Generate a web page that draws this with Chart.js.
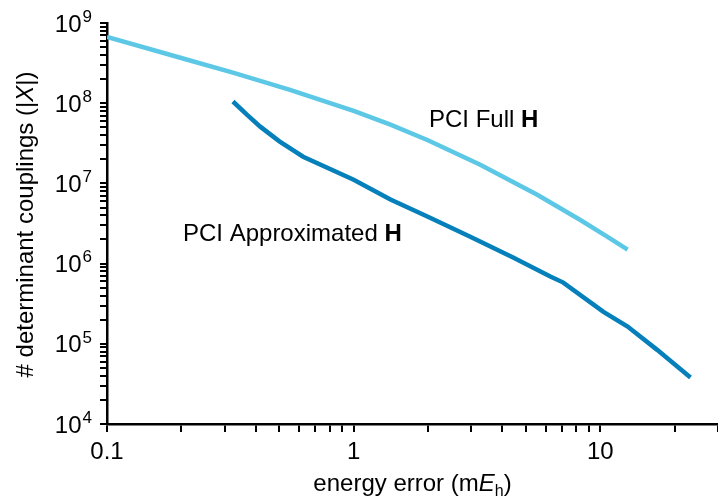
<!DOCTYPE html>
<html><head><meta charset="utf-8">
<script src="https://cdn.jsdelivr.net/npm/chart.js@4.4.1/dist/chart.umd.min.js"></script>
<style>html,body{margin:0;padding:0;background:#fff;overflow:hidden}#wrap{width:718px;height:498px}</style>
</head><body><div id="wrap"><canvas id="c" width="718" height="498"></canvas></div>
<script>
// ---- data ----
const fullX   = [0.1, 0.2, 0.324, 0.552, 1.0, 1.41, 2.0, 3.26, 5.55, 8.3, 10.5, 12.9];
const fullY   = [6.7e8, 3.66e8, 2.4e8, 1.47e8, 8.0e7, 5.4e7, 3.45e7, 1.71e7, 7.2e6, 3.5e6, 2.23e6, 1.49e6];
const approxX = [0.324, 0.369, 0.418, 0.5, 0.624, 1.0, 1.41, 2.0, 2.97, 4.43, 6.27, 7.08, 10.3, 12.9, 17.0, 23.2];
const approxY = [1.05e8, 7.2e7, 5.1e7, 3.35e7, 2.15e7, 1.11e7, 6.3e6, 3.84e6, 2.16e6, 1.19e6, 6.9e5, 5.8e5, 2.5e5, 1.64e5, 8.4e4, 3.8e4];

const seriesNames = ['PCI Full ', 'PCI Approximated '];
const xMajor = [0.1, 1, 10];
const xMajorLabels = ['0.1', '1', '10'];
const minorSteps = [1, 2, 3, 4, 5, 6, 7, 8, 9];
const xDecadeBases = [0.1, 1, 10];
const xMax = 30;
const yDecades = [4, 5, 6, 7, 8, 9];
const yMajorLabels = ['10', '10', '10', '10', '10', '10'];
const yExponents = ['4', '5', '6', '7', '8', '9'];
const xTitleRuns = [['energy error (m', 'n'], ['E', 'i'], ['h', 's'], [')', 'n']];
const yTitleRuns = [['# determinant couplings (|', 'n'], ['X', 'i'], ['|)', 'n']];

// ---- tick lists built from the arrays above ----
const xTickValues = [];
xDecadeBases.forEach(b => minorSteps.forEach(s => { const v = +(b * s).toPrecision(3); if (v <= xMax) xTickValues.push(v); }));
const yTickValues = [];
yDecades.forEach((d, i) => { const b = Math.pow(10, d); if (i === yDecades.length - 1) { yTickValues.push(b); } else { minorSteps.forEach(s => yTickValues.push(b * s)); } });

const FF = '"Liberation Sans", Arial, Helvetica, sans-serif';
const FS = 24;
function fontFor(style, size) {
  if (style === 'i') return 'italic ' + size + 'px ' + FF;
  if (style === 'b') return 'bold ' + size + 'px ' + FF;
  if (style === 's') return Math.round(size * 0.68) + 'px ' + FF;
  return size + 'px ' + FF;
}
function runsWidth(ctx, runs, size) {
  let w = 0;
  runs.forEach(r => { ctx.font = fontFor(r[1], size); w += ctx.measureText(r[0]).width; });
  return w;
}
function drawRuns(ctx, runs, x, y, size, align) {
  const w = runsWidth(ctx, runs, size);
  let cx = align === 'center' ? x - w / 2 : (align === 'right' ? x - w : x);
  runs.forEach(r => {
    ctx.font = fontFor(r[1], size);
    const dy = r[1] === 's' ? size * 0.22 : 0;
    ctx.fillText(r[0], cx, y + dy);
    cx += ctx.measureText(r[0]).width;
  });
}

const overlay = {
  id: 'overlay',
  afterDraw(chart) {
    const ctx = chart.ctx, ca = chart.chartArea;
    const ys = chart.scales.y;
    ctx.save();
    ctx.fillStyle = '#000';
    ctx.textBaseline = 'alphabetic';
    ctx.textAlign = 'left';
    // y tick labels with exponents
    const expFont = Math.round(FS * 0.72) + 'px ' + FF;
    yDecades.forEach((d, i) => {
      const py = ys.getPixelForValue(Math.pow(10, d));
      ctx.font = fontFor('n', FS);
      const wb = ctx.measureText(yMajorLabels[i]).width;
      ctx.font = expFont;
      const we = ctx.measureText(yExponents[i]).width;
      const right = ca.left - 16;
      const x0 = right - wb - we;
      ctx.font = fontFor('n', FS);
      ctx.fillText(yMajorLabels[i], x0, py + FS * 0.36);
      ctx.font = expFont;
      ctx.fillText(yExponents[i], x0 + wb + 1, py - FS * 0.05);
    });
    // x title
    drawRuns(ctx, xTitleRuns, (ca.left + ca.right) / 2, 491, FS, 'center');
    // y title
    ctx.save();
    ctx.translate(33, (ca.top + ca.bottom) / 2 + 1);
    ctx.rotate(-Math.PI / 2);
    drawRuns(ctx, yTitleRuns, 0, 0, FS, 'center');
    ctx.restore();
    // series annotations
    drawRuns(ctx, [[seriesNames[0], 'n'], ['H', 'b']], 429, 127, FS, 'left');
    drawRuns(ctx, [[seriesNames[1], 'n'], ['H', 'b']], 183, 241, FS, 'left');
    ctx.restore();
  }
};

const toPts = (xs, ys) => xs.map((x, i) => ({ x, y: ys[i] }));

new Chart(document.getElementById('c'), {
  type: 'line',
  data: {
    datasets: [
      { label: 'PCI Full H', data: toPts(fullX, fullY), borderColor: '#5DC8E6', borderWidth: 4.5, pointRadius: 0, tension: 0, fill: false },
      { label: 'PCI Approximated H', data: toPts(approxX, approxY), borderColor: '#0580BA', borderWidth: 4.5, pointRadius: 0, tension: 0, fill: false }
    ]
  },
  options: {
    responsive: false,
    animation: false,
    devicePixelRatio: 1,
    layout: { padding: { top: 23, right: 0, left: 0, bottom: 0 } },
    plugins: { legend: { display: false }, tooltip: { enabled: false }, title: { display: false } },
    scales: {
      x: {
        type: 'logarithmic', min: 0.1, max: xMax,
        afterBuildTicks: s => { s.ticks = xTickValues.map(v => ({ value: v })); },
        afterFit: s => { s.height = 74; s.paddingRight = 0; },
        ticks: {
          autoSkip: false, maxRotation: 0, minRotation: 0, padding: 6, color: '#000',
          font: { family: FF, size: FS },
          callback: v => { const i = xMajor.findIndex(m => Math.abs(m - v) < 1e-9); return i >= 0 ? xMajorLabels[i] : ' '; }
        },
        grid: { drawOnChartArea: false, drawTicks: true, tickLength: 8, color: '#000', tickColor: '#000', lineWidth: 2, tickWidth: 2 },
        border: { display: true, color: '#000', width: 2.5 }
      },
      y: {
        type: 'logarithmic', min: 1e4, max: 1e9,
        afterBuildTicks: s => { s.ticks = yTickValues.map(v => ({ value: v })); },
        afterFit: s => { s.width = 107; },
        ticks: { autoSkip: false, callback: () => ' ', font: { family: FF, size: FS } },
        grid: { drawOnChartArea: false, drawTicks: true, tickLength: 7, color: '#000', tickColor: '#000', lineWidth: 2, tickWidth: 2 },
        border: { display: true, color: '#000', width: 2.5 }
      }
    }
  },
  plugins: [overlay]
});
</script></body></html>
